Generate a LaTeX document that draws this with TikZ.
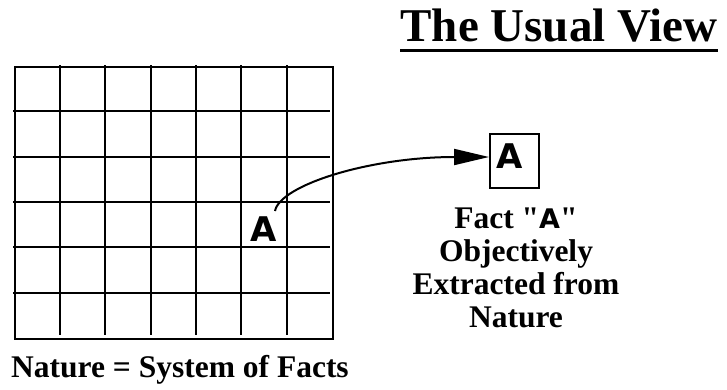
\documentclass[tikz,border=0pt]{standalone}
\usepackage{fontspec}
\setmainfont{Liberation Serif}
\newfontfamily\qfont{Liberation Serif}
\newfontfamily\hel{DejaVu Sans}
\newcommand{\dq}{{\qfont\bfseries"}}
\usetikzlibrary{arrows.meta}
\begin{document}
\begin{tikzpicture}[x=1pt,y=-1pt,
  gridline/.style={line width=2pt},
  serifbold/.style={font=\fontsize{31.5}{33}\selectfont\bfseries, inner sep=0pt},
  bigA/.style={font=\hel\bfseries\fontsize{34}{34}\selectfont, inner sep=0pt},
  connector/.style={line width=2pt,-{Triangle[length=35pt,width=16pt]}}]
\useasboundingbox (0,0) rectangle (727,389);
% title
\node[serifbold, font=\fontsize{47}{50}\selectfont\bfseries, anchor=base] (title) at (559,41) {The Usual View};
\draw[line width=3pt] ([yshift=-9pt]title.base west) -- ([yshift=-9pt]title.base east);
% grid
\draw[gridline] (15,67) rectangle (333,339);
\foreach \x in {60,105,151,196,241,287} \draw[gridline] (\x,65) -- (\x,335);
\foreach \y in {111,157,202,247,293} \draw[gridline] (13,\y) -- (330,\y);
\node[bigA] (gA) at (263.5,229) {A};
% box
\node[draw, line width=2pt, minimum width=49pt, minimum height=54pt, inner sep=0pt, bigA] (box) at (514.5,161) {\kern-10pt\raisebox{10pt}{A}};
% arrow
\coordinate (s) at (275,211);
\draw[connector] (s) .. controls (280,185) and (370,157) .. ([yshift=4pt]box.west);
% labels
\node[serifbold, align=center, anchor=base] (fact) at (516,327) {Fact \dq{\hel\fontsize{27}{27}\selectfont A}\dq\\Objectively\\Extracted from\\Nature};
\node[serifbold, anchor=base] (nature) at (180,377) {Nature = System of Facts};
\end{tikzpicture}
\end{document}
